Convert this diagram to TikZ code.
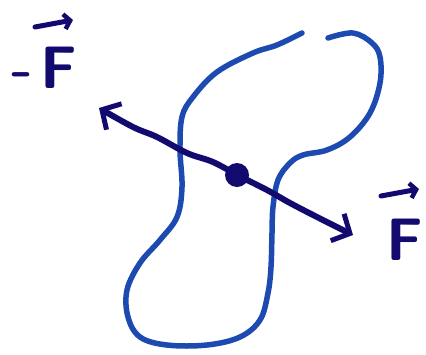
\documentclass[tikz,border=0pt]{standalone}
\usepackage{xcolor}
\usetikzlibrary{arrows.meta}
\definecolor{penblue}{RGB}{28, 74, 176}
\definecolor{pennavy}{RGB}{18, 10, 110}

\begin{document}
\begin{tikzpicture}[x=1pt, y=-1pt, line cap=round, line join=round]
	\useasboundingbox (0,0) rectangle (426,354);
	\tikzset{
		outline/.style={penblue, line width=5.5pt},
		force/.style={pennavy, line width=6pt},
		forcehead/.style={-{Straight Barb[length=14pt, width=30pt, line width=5pt]}},
		vecbar/.style={pennavy, line width=5pt, -{Straight Barb[length=6pt, width=15pt, line width=4.5pt]}},
		forcelabel/.style={pennavy, inner sep=0pt, font=\fontsize{60}{60}\selectfont\sffamily\bfseries}
	}

	% Body outline, open at the top
	\draw[outline] plot[smooth, tension=0.6] coordinates {
		(302,33) (277,45) (253,53) (217,72) (193,97) (182,117) (180,150)
		(182,187) (177,217) (160,240) (140,263) (127,290) (128,317)
		(140,337) (167,345) (207,345) (240,337) (260,320) (268,293)
		(271,267) (272,233) (273,207) (278,180) (290,163) (303,155)
		(327,150) (350,137) (370,113) (380,83) (380,57) (372,43)
		(353,33) (328,38)};

	% Point of application
	\node[circle, fill=pennavy, minimum size=24pt, inner sep=0pt] (pt) at (237,175) {};

	% Pair of opposite forces
	\draw[force, forcehead] plot[smooth, tension=0.6] coordinates {
		(pt.center) (213,162) (187,153) (157,137) (133,127) (99,108)};
	\draw[force, forcehead] plot[smooth, tension=0.6] coordinates {
		(pt.center) (267,190) (290,203) (317,217) (353,235)};

	% Labels with their vector bars
	\node[forcelabel, anchor=base west] (negF) at (11,88) {-\kern7pt F};
	\node[forcelabel, anchor=base west] (F) at (386,260) {F};
	\coordinate (negFbar0) at (35,27);
	\coordinate (negFbar1) at (73,20);
	\coordinate (Fbar0) at (381,196);
	\coordinate (Fbar1) at (419,189);
	\draw[vecbar] (negFbar0) -- (negFbar1);
	\draw[vecbar] (Fbar0) -- (Fbar1);

\end{tikzpicture}
\end{document}
